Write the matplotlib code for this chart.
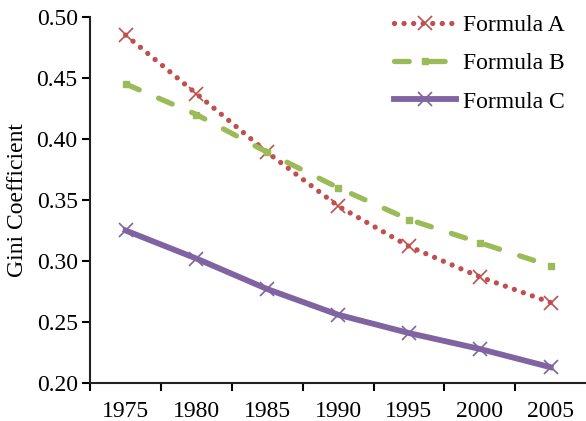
import matplotlib
matplotlib.use("Agg")
import matplotlib.pyplot as plt
import numpy as np

years = ["1975", "1980", "1985", "1990", "1995", "2000", "2005"]
formula_a = [0.485, 0.437, 0.389, 0.345, 0.312, 0.287, 0.266]
formula_b = [0.445, 0.420, 0.389, 0.360, 0.334, 0.315, 0.296]
formula_c = [0.325, 0.302, 0.277, 0.256, 0.241, 0.228, 0.213]
yticks = [0.20, 0.25, 0.30, 0.35, 0.40, 0.45, 0.50]

plt.rcParams['font.family'] = 'serif'
plt.rcParams['font.serif'] = ['Liberation Serif', 'DejaVu Serif']

fig = plt.figure(figsize=(5.86, 4.21), dpi=100)
ax = fig.add_axes([0.154, 0.090, 0.846, 0.870])

x = np.arange(len(years))
ax.plot(x, formula_a, color='#c0504d', linestyle=(0, (0.01, 1.8)), dash_capstyle='round',
        linewidth=3.8, marker='x', markersize=10.5, markeredgewidth=1.2, label='Formula A')
ax.plot(x, formula_b, color='#9bbb59', linestyle=(0, (2.8, 4.0)), dash_capstyle='round',
        linewidth=3.8, marker='s', markersize=5, label='Formula B')
ax.plot(x, formula_c, color='#8064a2', linestyle='-', linewidth=4.2,
        marker='x', markersize=10.5, markeredgewidth=1.2, label='Formula C')

ax.set_xlim(-0.5, 6.5)
ax.set_ylim(0.20, 0.50)
ax.set_xticks(np.arange(-0.5, 6.0, 1.0))
ax.set_xticklabels([])
ax.set_xticks(x, minor=True)
ax.set_xticklabels(years, minor=True)
ax.tick_params(axis='x', which='minor', length=0, labelsize=17, pad=13)
ax.tick_params(axis='x', which='major', direction='out', length=6, width=1.5)
ax.set_yticks(yticks)
ax.set_yticklabels([f"{v:.2f}" for v in yticks])
ax.tick_params(axis='y', direction='out', length=6, width=1.5, labelsize=17, pad=3)

for s in ['top', 'right']:
    ax.spines[s].set_visible(False)
for s in ['left', 'bottom']:
    ax.spines[s].set_linewidth(1.5)
    ax.spines[s].set_color('#222222')

ax.set_ylabel('Gini Coefficient', fontsize=17, labelpad=6)

leg = ax.legend(loc='upper right', bbox_to_anchor=(0.985, 1.044), frameon=False, fontsize=17,
                handlelength=2.6, handletextpad=0.3, labelspacing=0.7, borderaxespad=0.2)

fig.savefig('out.png', dpi=100)
